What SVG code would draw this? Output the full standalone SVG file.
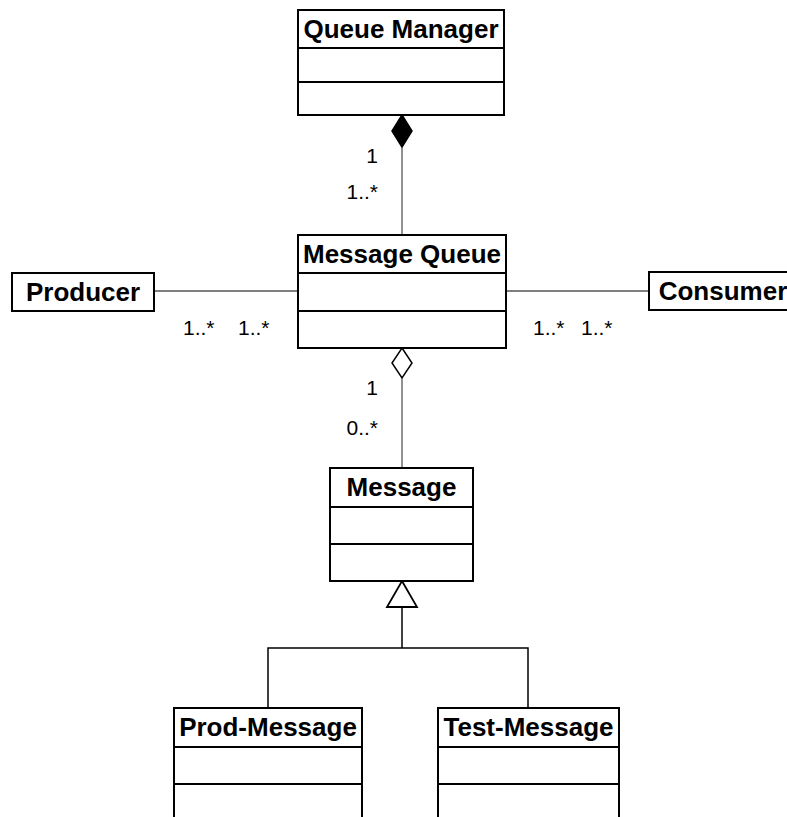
<svg xmlns="http://www.w3.org/2000/svg" width="787" height="817" viewBox="0 0 787 817">
  <style>
    .box { fill: #fff; stroke: #000; stroke-width: 2; }
    .div { stroke: #000; stroke-width: 2; }
    .title { font-family: "Liberation Sans", Arial, sans-serif; font-weight: bold; font-size: 26px; text-anchor: middle; fill: #000; }
    .mult { font-family: "Liberation Sans", Arial, sans-serif; font-size: 21px; fill: #000; }
    .assoc { stroke: #555; stroke-width: 1.3; fill: none; }
    .gen { stroke: #000; stroke-width: 1.5; fill: none; }
  </style>
  <rect width="787" height="817" fill="#fff"/>

  <g id="connectors">
    <!-- composition: Queue Manager <>- Message Queue -->
    <polygon points="402,115 412,131 402,147 392,131" fill="#000" stroke="#000" stroke-width="1.5"/>
    <line class="assoc" x1="402" y1="147" x2="402" y2="235"/>
    <!-- Producer - Message Queue -->
    <line class="assoc" x1="154" y1="291" x2="298" y2="291"/>
    <!-- Message Queue - Consumer -->
    <line class="assoc" x1="506" y1="291" x2="649" y2="291"/>
    <!-- aggregation: Message Queue <>- Message -->
    <polygon points="402,348 412,363 402,378 392,363" fill="#fff" stroke="#000" stroke-width="1.5"/>
    <line class="assoc" x1="402" y1="378" x2="402" y2="468"/>
    <!-- generalization tree -->
    <polygon points="402,581 417,607 387,607" fill="#fff" stroke="#000" stroke-width="1.8"/>
    <polyline class="gen" points="402,607 402,648"/>
    <polyline class="gen" points="268,708 268,648 528,648 528,708"/>
  </g>

  <g id="multiplicities">
    <text class="mult" x="378" y="163" text-anchor="end">1</text>
    <text class="mult" x="378" y="199" text-anchor="end">1..*</text>
    <text class="mult" x="183" y="335">1..*</text>
    <text class="mult" x="238" y="335">1..*</text>
    <text class="mult" x="533" y="335">1..*</text>
    <text class="mult" x="581" y="335">1..*</text>
    <text class="mult" x="378" y="395" text-anchor="end">1</text>
    <text class="mult" x="378" y="435" text-anchor="end">0..*</text>
  </g>

  <g id="queue-manager">
    <rect class="box" x="298" y="10" width="206" height="105"/>
    <line class="div" x1="298" y1="48" x2="504" y2="48"/>
    <line class="div" x1="298" y1="82" x2="504" y2="82"/>
    <text class="title" x="401" y="38">Queue Manager</text>
  </g>

  <g id="message-queue">
    <rect class="box" x="298" y="235" width="208" height="113"/>
    <line class="div" x1="298" y1="273" x2="506" y2="273"/>
    <line class="div" x1="298" y1="311" x2="506" y2="311"/>
    <text class="title" x="402" y="263">Message Queue</text>
  </g>

  <g id="producer">
    <rect class="box" x="12" y="273" width="142" height="38"/>
    <text class="title" x="83" y="301">Producer</text>
  </g>

  <g id="consumer">
    <rect class="box" x="649" y="272" width="148" height="38"/>
    <text class="title" x="723" y="300">Consumer</text>
  </g>

  <g id="message">
    <rect class="box" x="330" y="468" width="143" height="113"/>
    <line class="div" x1="330" y1="507" x2="473" y2="507"/>
    <line class="div" x1="330" y1="544" x2="473" y2="544"/>
    <text class="title" x="401.5" y="496">Message</text>
  </g>

  <g id="prod-message">
    <rect class="box" x="174" y="708" width="188" height="130"/>
    <line class="div" x1="174" y1="747" x2="362" y2="747"/>
    <line class="div" x1="174" y1="784" x2="362" y2="784"/>
    <text class="title" x="268" y="736">Prod-Message</text>
  </g>

  <g id="test-message">
    <rect class="box" x="438" y="708" width="181" height="130"/>
    <line class="div" x1="438" y1="747" x2="619" y2="747"/>
    <line class="div" x1="438" y1="784" x2="619" y2="784"/>
    <text class="title" x="528.5" y="736">Test-Message</text>
  </g>
</svg>
